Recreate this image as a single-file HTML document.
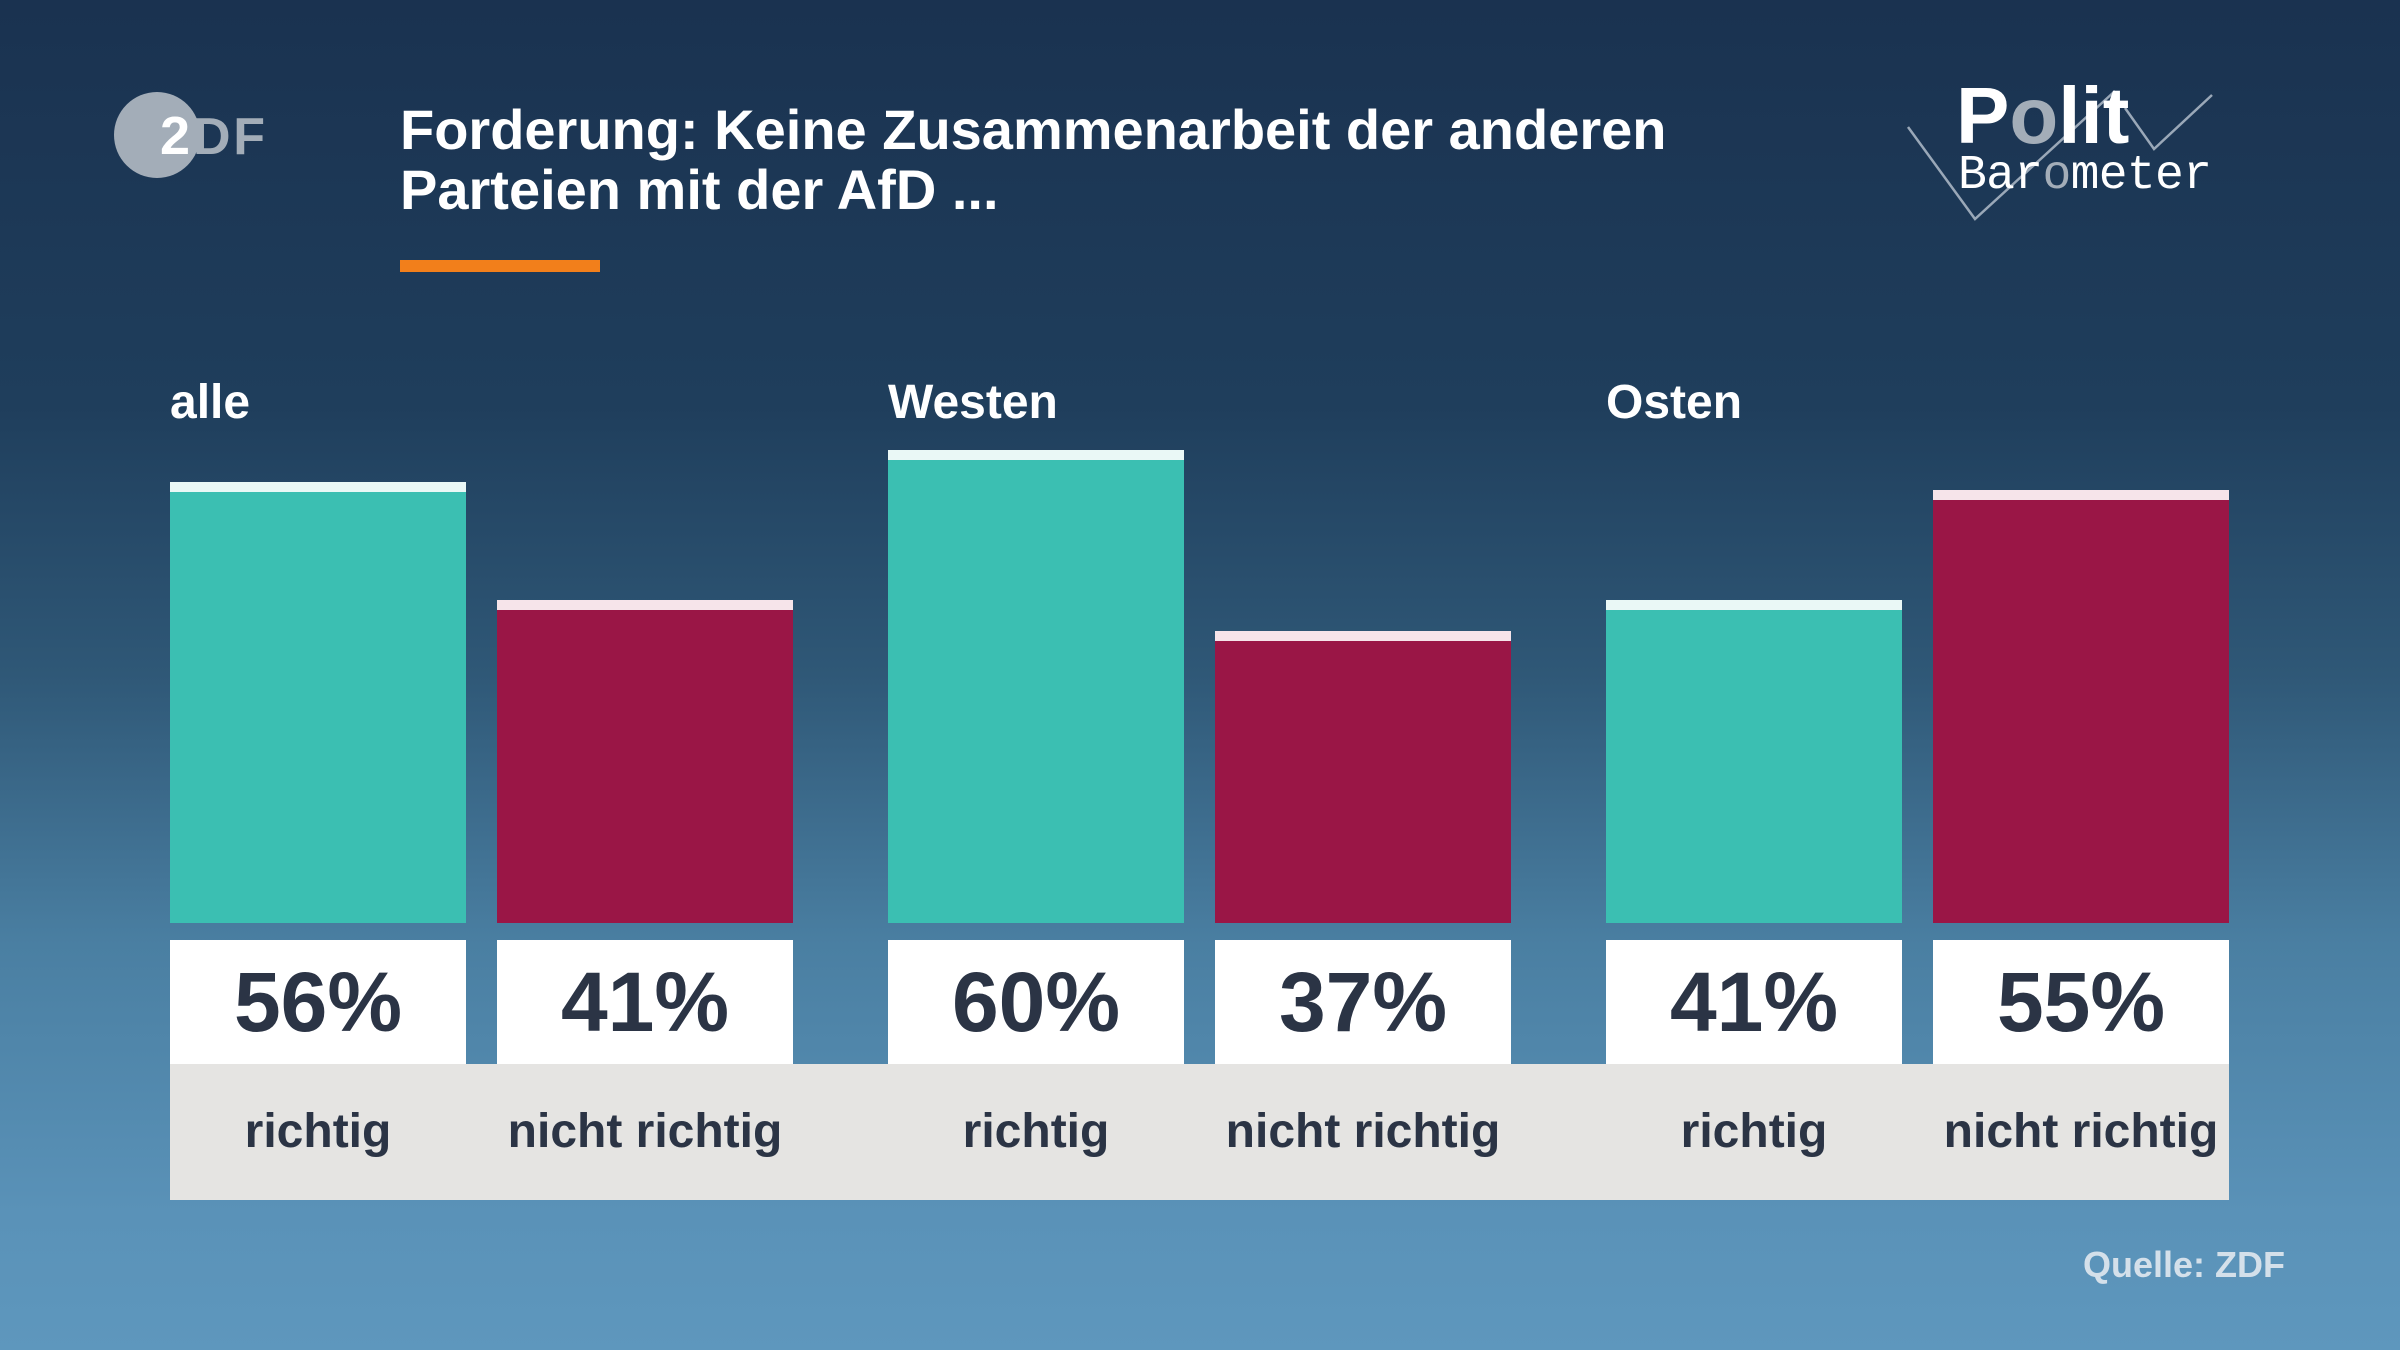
<!DOCTYPE html>
<html><head><meta charset="utf-8"><style>
*{margin:0;padding:0;box-sizing:border-box}
body{width:2400px;height:1350px;overflow:hidden;position:relative;font-family:"Liberation Sans",sans-serif;
background:linear-gradient(180deg,#1a3250 0%,#1f3e5c 30%,#2f5877 50%,#4a7fa2 70%,#5a92b8 90%,#5e97bd 100%);}
.a{position:absolute}
.t{color:#fff;font-weight:bold}
.bar{position:absolute;width:296px}
.g{background:#3bbfb2;border-top:10px solid #eaf8f6}
.r{background:#9a1646;border-top:10px solid #f6e4ea}
.box{position:absolute;top:940px;height:124px;width:296px;background:#fff;color:#2b3445;font-weight:bold;font-size:84px;text-align:center;line-height:124px}
.lab{position:absolute;top:1100px;width:296px;text-align:center;color:#2b3445;font-size:48px;font-weight:bold;line-height:64px}
</style></head><body>
<svg class="a" style="left:0;top:0" width="2400" height="300">
<circle cx="157" cy="135" r="43" fill="#a3adb8"/>
<text x="160" y="154" font-family="Liberation Sans" font-weight="bold" font-size="54" fill="#fff">2</text>
<text x="193" y="154" font-family="Liberation Sans" font-weight="bold" font-size="52" fill="#a3adb8" textLength="72">DF</text>
<polyline points="1908,127 1975,219 2115,91" fill="none" stroke="#9aa8b8" stroke-width="2.5"/>
<polyline points="2125,108 2154,149 2212,95" fill="none" stroke="#9aa8b8" stroke-width="2.5"/>
<text x="1956" y="143" font-family="Liberation Sans" font-weight="bold" font-size="80" fill="#fff">P<tspan fill="#a3adb8">o</tspan>lit</text>
<text x="1958" y="188" font-family="Liberation Mono" font-size="48" fill="#fff" textLength="254">Bar<tspan fill="#a3adb8">o</tspan>meter</text>
</svg>
<div class="a t" style="left:400px;top:100px;font-size:56px;line-height:60px">Forderung: Keine Zusammenarbeit der anderen<br>Parteien mit der AfD ...</div>
<div class="a" style="left:400px;top:260px;width:200px;height:12px;background:#f27f1b"></div>
<div class="a t" style="left:170px;top:375px;font-size:48px">alle</div>
<div class="a t" style="left:888px;top:375px;font-size:48px">Westen</div>
<div class="a t" style="left:1606px;top:375px;font-size:48px">Osten</div>
<div class="bar g" style="left:170px;top:482px;height:441px"></div>
<div class="bar r" style="left:497px;top:600px;height:323px"></div>
<div class="bar g" style="left:888px;top:450px;height:473px"></div>
<div class="bar r" style="left:1215px;top:631px;height:292px"></div>
<div class="bar g" style="left:1606px;top:600px;height:323px"></div>
<div class="bar r" style="left:1933px;top:490px;height:433px"></div>
<div class="a" style="left:170px;top:1064px;width:2059px;height:136px;background:#e5e4e2"></div>
<div class="box" style="left:170px">56%</div>
<div class="box" style="left:497px">41%</div>
<div class="box" style="left:888px">60%</div>
<div class="box" style="left:1215px">37%</div>
<div class="box" style="left:1606px">41%</div>
<div class="box" style="left:1933px">55%</div>
<div class="lab" style="left:170px">richtig</div>
<div class="lab" style="left:497px">nicht richtig</div>
<div class="lab" style="left:888px">richtig</div>
<div class="lab" style="left:1215px">nicht richtig</div>
<div class="lab" style="left:1606px">richtig</div>
<div class="lab" style="left:1933px">nicht richtig</div>
<div class="a" style="right:115px;top:1244px;font-size:36px;font-weight:bold;color:#d4e0ea">Quelle: ZDF</div>
</body></html>
